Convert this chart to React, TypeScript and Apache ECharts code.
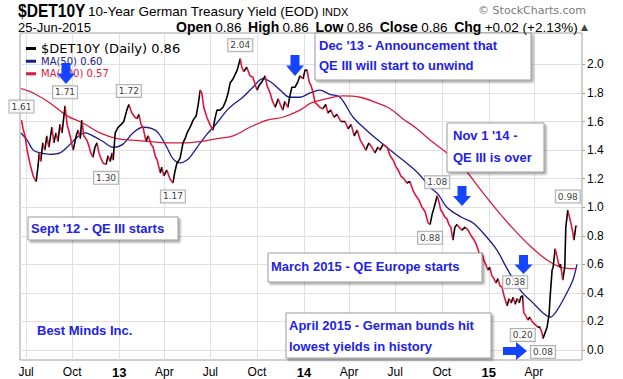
import { useEffect, useRef } from "react";
import * as echarts from "echarts";

const priceDates = [
  "2012-06-23","2012-06-26","2012-06-30","2012-07-04","2012-07-10","2012-07-16","2012-07-22","2012-07-26","2012-07-28","2012-07-31",
  "2012-08-04","2012-08-08","2012-08-12","2012-08-16","2012-08-22","2012-08-26","2012-08-30","2012-09-03","2012-09-07","2012-09-11",
  "2012-09-17","2012-09-21","2012-09-27","2012-10-03","2012-10-09","2012-10-13","2012-10-17","2012-10-20","2012-10-24","2012-10-30",
  "2012-11-03","2012-11-07","2012-11-11","2012-11-15","2012-11-19","2012-11-23","2012-11-27","2012-12-01","2012-12-07","2012-12-11",
  "2012-12-15","2012-12-19","2012-12-21","2012-12-25","2012-12-31","2013-01-06","2013-01-11","2013-01-17","2013-01-21","2013-01-27",
  "2013-02-02","2013-02-06","2013-02-10","2013-02-14","2013-02-18","2013-02-24","2013-02-28","2013-03-06","2013-03-10","2013-03-14",
  "2013-03-18","2013-03-24","2013-03-27","2013-03-31","2013-04-06","2013-04-12","2013-04-18","2013-04-22","2013-04-26","2013-05-02",
  "2013-05-08","2013-05-12","2013-05-16","2013-05-22","2013-05-28","2013-06-03","2013-06-07","2013-06-11","2013-06-14","2013-06-18",
  "2013-06-24","2013-06-30","2013-07-06","2013-07-10","2013-07-14","2013-07-20","2013-07-26","2013-08-01","2013-08-05","2013-08-09",
  "2013-08-15","2013-08-19","2013-08-23","2013-08-29","2013-09-01","2013-09-05","2013-09-11","2013-09-17","2013-09-23","2013-10-01",
  "2013-10-05","2013-10-11","2013-10-17","2013-10-21","2013-10-27","2013-10-31","2013-11-06","2013-11-12","2013-11-16","2013-11-21",
  "2013-11-25","2013-12-01","2013-12-05","2013-12-09","2013-12-15","2013-12-21","2013-12-25","2013-12-31","2014-01-04","2014-01-08",
  "2014-01-12","2014-01-16","2014-01-20","2014-01-24","2014-01-28","2014-02-02","2014-02-08","2014-02-14","2014-02-18","2014-02-24",
  "2014-03-02","2014-03-08","2014-03-16","2014-03-24","2014-03-30","2014-04-05","2014-04-11","2014-04-17","2014-04-23","2014-04-28",
  "2014-05-04","2014-05-10","2014-05-16","2014-05-22","2014-05-28","2014-06-01","2014-06-07","2014-06-15","2014-06-21","2014-06-27",
  "2014-07-03","2014-07-07","2014-07-12","2014-07-18","2014-07-24","2014-07-30","2014-08-05","2014-08-11","2014-08-17","2014-08-23",
  "2014-08-29","2014-09-04","2014-09-08","2014-09-12","2014-09-16","2014-09-22","2014-09-26","2014-09-29","2014-10-03","2014-10-07",
  "2014-10-11","2014-10-15","2014-10-19","2014-10-23","2014-10-27","2014-10-31","2014-11-04","2014-11-10","2014-11-16","2014-11-22",
  "2014-11-28","2014-12-04","2014-12-08","2014-12-12","2014-12-15","2014-12-19","2014-12-23","2014-12-27","2014-12-31","2015-01-04",
  "2015-01-08","2015-01-12","2015-01-16","2015-01-20","2015-01-24","2015-01-28","2015-02-01","2015-02-07","2015-02-11","2015-02-15",
  "2015-02-19","2015-02-23","2015-02-27","2015-03-03","2015-03-06","2015-03-10","2015-03-12","2015-03-16","2015-03-20","2015-03-24",
  "2015-03-28","2015-04-03","2015-04-09","2015-04-13","2015-04-17","2015-04-19","2015-04-23","2015-04-27","2015-05-01","2015-05-03",
  "2015-05-07","2015-05-09","2015-05-13","2015-05-17","2015-05-21","2015-05-24","2015-05-28","2015-06-01","2015-06-03","2015-06-07",
  "2015-06-11","2015-06-13","2015-06-17","2015-06-19","2015-06-23","2015-06-25"
];
const priceValues = [
  1.61,1.55,1.50,1.40,1.30,1.22,1.18,1.30,1.38,1.32,
  1.45,1.40,1.50,1.42,1.56,1.45,1.52,1.46,1.58,1.52,
  1.71,1.58,1.50,1.40,1.50,1.54,1.48,1.61,1.50,1.47,
  1.43,1.38,1.35,1.42,1.45,1.38,1.34,1.31,1.30,1.36,
  1.32,1.38,1.33,1.52,1.56,1.58,1.60,1.68,1.72,1.66,
  1.63,1.62,1.65,1.58,1.56,1.46,1.50,1.44,1.42,1.36,
  1.33,1.24,1.28,1.22,1.26,1.20,1.17,1.25,1.31,1.34,
  1.45,1.48,1.52,1.56,1.61,1.64,1.72,1.82,1.80,1.70,
  1.63,1.58,1.54,1.62,1.68,1.68,1.70,1.75,1.80,1.87,
  1.90,1.93,1.96,2.04,1.98,1.95,1.98,1.92,1.91,1.82,
  1.85,1.88,1.92,1.85,1.80,1.75,1.70,1.76,1.72,1.68,
  1.74,1.70,1.78,1.84,1.84,1.88,1.92,1.90,1.96,1.96,
  1.88,1.85,1.80,1.73,1.72,1.70,1.69,1.72,1.66,1.68,
  1.63,1.65,1.60,1.60,1.55,1.58,1.50,1.54,1.47,1.44,
  1.40,1.45,1.42,1.38,1.42,1.40,1.44,1.42,1.36,1.33,
  1.28,1.26,1.22,1.20,1.17,1.18,1.12,1.08,1.05,1.00,
  0.97,0.89,0.88,0.95,1.00,1.08,1.03,0.98,0.96,0.93,
  0.92,0.88,0.86,0.77,0.86,0.88,0.86,0.84,0.86,0.84,
  0.80,0.77,0.74,0.70,0.66,0.68,0.63,0.60,0.56,0.58,
  0.52,0.50,0.47,0.50,0.45,0.44,0.38,0.31,0.36,0.33,
  0.37,0.32,0.36,0.33,0.37,0.38,0.26,0.24,0.21,0.23,
  0.20,0.18,0.16,0.16,0.12,0.08,0.12,0.16,0.25,0.37,
  0.56,0.58,0.71,0.65,0.58,0.60,0.49,0.58,0.86,0.98,
  0.92,0.89,0.82,0.77,0.87,0.86
];

const ma50Dates = [
  "2012-06-22","2012-07-04","2012-07-16","2012-07-30","2012-08-18","2012-09-07","2012-09-21","2012-10-11","2012-10-26","2012-11-11",
  "2012-12-01","2012-12-21","2013-01-09","2013-01-29","2013-02-18","2013-03-08","2013-03-20","2013-04-06","2013-04-18","2013-05-02",
  "2013-05-16","2013-05-28","2013-06-11","2013-06-24","2013-07-14","2013-08-03","2013-08-19","2013-09-03","2013-09-23","2013-10-13",
  "2013-10-27","2013-11-16","2013-12-05","2013-12-25","2014-01-14","2014-02-02","2014-02-22","2014-03-14","2014-04-09","2014-05-02",
  "2014-05-28","2014-06-21","2014-07-20","2014-08-15","2014-09-08","2014-09-24","2014-10-11","2014-11-09","2014-12-02","2014-12-29",
  "2015-01-18","2015-02-07","2015-03-05","2015-03-30","2015-04-19","2015-05-03","2015-05-17","2015-06-05","2015-06-17","2015-06-25"
];
const ma50Values = [
  1.52,1.47,1.40,1.38,1.37,1.38,1.42,1.49,1.52,1.50,
  1.46,1.42,1.44,1.52,1.56,1.55,1.52,1.42,1.34,1.31,
  1.33,1.38,1.45,1.51,1.59,1.68,1.73,1.77,1.84,1.90,
  1.88,1.82,1.77,1.77,1.80,1.82,1.79,1.77,1.63,1.55,
  1.47,1.40,1.32,1.24,1.14,1.09,1.00,0.93,0.89,0.79,
  0.70,0.57,0.42,0.33,0.26,0.23,0.28,0.40,0.49,0.60
];

const ma200Dates = [
  "2012-06-22","2012-07-16","2012-08-18","2012-09-21","2012-10-22","2012-11-25","2012-12-29","2013-01-29","2013-03-04","2013-04-06",
  "2013-05-08","2013-06-11","2013-07-14","2013-08-15","2013-09-17","2013-10-21","2013-11-21","2013-12-25","2014-01-16","2014-02-16",
  "2014-03-20","2014-04-23","2014-05-26","2014-06-21","2014-07-16","2014-08-13","2014-09-08","2014-10-11","2014-11-12","2014-12-15",
  "2015-01-18","2015-02-19","2015-03-24","2015-04-27","2015-05-23","2015-06-11","2015-06-25"
];
const ma200Values = [
  1.83,1.80,1.73,1.64,1.59,1.52,1.48,1.47,1.46,1.45,
  1.45,1.46,1.48,1.50,1.56,1.61,1.63,1.68,1.73,1.76,
  1.78,1.77,1.73,1.69,1.62,1.55,1.47,1.38,1.28,1.13,
  0.98,0.85,0.73,0.63,0.58,0.57,0.57
];

const labelDates = ["2012-06-23","2012-09-17","2012-12-07","2013-01-21","2013-04-18","2013-08-29","2014-09-08","2014-09-22","2015-02-23","2015-03-10","2015-04-19","2015-06-07"];
const labelValues = [1.61,1.71,1.30,1.72,1.17,2.04,0.88,1.08,0.38,0.20,0.08,0.98];
const labelSides = ["top","top","bottom","top","bottom","top","bottom","top","top","bottom","bottom","top"];

const yTickValues = [0, 0.2, 0.4, 0.6, 0.8, 1.0, 1.2, 1.4, 1.6, 1.8, 2.0];
const xTickDates = ["2012-07-02","2012-10-01","2013-01-02","2013-04-01","2013-07-01","2013-10-01","2014-01-02","2014-04-01","2014-07-01","2014-10-01","2015-01-02","2015-04-01"];
const xTickLabels = ["Jul","Oct","13","Apr","Jul","Oct","14","Apr","Jul","Oct","15","Apr"];

const PRICE_NAME = "$DET10Y (Daily) 0.86";
const MA50_NAME = "MA(50) 0.60";
const MA200_NAME = "MA(200) 0.57";

const RED = "#e0143a";
const RED2 = "#d81b3c";
const NAVY = "#1c1c8e";
const ANN_BLUE = "#2222e6";
const ARROW_BLUE = "#1444ff";
const SANS = '"Liberation Sans", Arial, sans-serif';
const VERD = '"DejaVu Sans", Verdana, sans-serif';

const ts = (s: string) => new Date(s + "T00:00:00").getTime();

function txt(x: number, y: number, text: string, font: string, fill: string, align = "left", extra: any = {}) {
  return {
    type: "text", z: 100, x, y, ...extra,
    style: { text, font, fill, align, verticalAlign: "middle", textAlign: align, textVerticalAlign: "middle" },
  };
}
function box(x: number, y: number, w: number, h: number) {
  return {
    type: "rect", z: 90, shape: { x, y, width: w, height: h },
    style: { fill: "#fff", stroke: "#9a9a9a", lineWidth: 1, shadowBlur: 2, shadowOffsetX: 2, shadowOffsetY: 2, shadowColor: "rgba(0,0,0,0.35)" },
  };
}
function downArrow(cx: number, top: number, neck: number, tip: number) {
  return {
    type: "polygon", z: 100,
    shape: { points: [[cx - 4.5, top], [cx + 4.5, top], [cx + 4.5, neck], [cx + 9, neck], [cx, tip], [cx - 9, neck], [cx - 4.5, neck]] },
    style: { fill: ARROW_BLUE },
  };
}
function rightArrow(left: number, neck: number, tip: number, cy: number) {
  return {
    type: "polygon", z: 100,
    shape: { points: [[left, cy - 4], [neck, cy - 4], [neck, cy - 9], [tip, cy], [neck, cy + 9], [neck, cy + 4], [left, cy + 4]] },
    style: { fill: ARROW_BLUE },
  };
}

export default function App() {
  const ref = useRef<HTMLDivElement>(null);
  useEffect(() => {
    const chart = echarts.init(ref.current!, null, { renderer: "svg" });
    const priceTimes = priceDates.map(ts);
    const pieces: any[] = [];
    for (let i = 1; i < priceTimes.length; i++) {
      pieces.push({ min: priceTimes[i - 1], max: priceTimes[i], color: priceValues[i] >= priceValues[i - 1] ? "#000" : RED });
    }
    const xTickTimes = xTickDates.map(ts);

    const annLines = [
      txt(319, 45, "Dec '13 - Announcement that", `bold 13px ${SANS}`, ANN_BLUE),
      txt(319, 65, "QE III will start to unwind", `bold 13px ${SANS}`, ANN_BLUE),
      txt(453, 135, "Nov 1 '14 -", `bold 13px ${SANS}`, ANN_BLUE),
      txt(453, 157, "QE III is over", `bold 13px ${SANS}`, ANN_BLUE),
      txt(31, 228.5, "Sept '12 - QE III starts", `bold 13px ${SANS}`, ANN_BLUE),
      txt(271, 266, "March 2015 - QE Europe starts", `bold 13px ${SANS}`, ANN_BLUE),
      txt(289, 325, "April 2015 - German bunds hit", `bold 13px ${SANS}`, ANN_BLUE),
      txt(289, 346, "lowest yields in history", `bold 13px ${SANS}`, ANN_BLUE),
      txt(37, 330, "Best Minds Inc.", `bold 13px ${SANS}`, ANN_BLUE),
    ];

    const header = [
      txt(18, 10.5, "$DET10Y", `bold 19px ${SANS}`, "#000", "left", { scaleX: 0.82 }),
      txt(88, 11, "10-Year German Treasury Yield (EOD)", `13.5px ${SANS}`, "#000"),
      txt(322, 11.5, "INDX", `11px ${SANS}`, "#000"),
      txt(586, 10.5, "\u00A9 StockCharts.com", `11px ${VERD}`, "#7a7a7a", "right"),
      txt(18, 27, "25-Jun-2015", `13px ${SANS}`, "#000"),
      {
        type: "text", z: 100, x: 588, y: 27,
        style: {
          text: "{b|Open} {n|0.86}  {b|High} {n|0.86}  {b|Low} {n|0.86}  {b|Close} {n|0.86}  {b|Chg} {n|+0.02 (+2.13%)} {t|\u25B2}",
          align: "right", verticalAlign: "middle", textAlign: "right", textVerticalAlign: "middle",
          rich: {
            b: { fontFamily: SANS, fontWeight: "bold", fontSize: 14, fill: "#000" },
            n: { fontFamily: SANS, fontSize: 13.5, fill: "#000" },
            t: { fontFamily: VERD, fontSize: 9, fill: "#444" },
          },
        },
      },
    ];

    const option: any = {
      animation: false,
      backgroundColor: "#fff",
      grid: { left: 20, right: 41, top: 33, bottom: 19, show: true, borderColor: "#a0a0a0", borderWidth: 1, backgroundColor: "#fff" },
      xAxis: {
        type: "value",
        min: ts("2012-06-20"),
        max: ts("2015-07-05"),
        axisLine: { show: false },
        axisTick: { show: false, customValues: xTickTimes },
        splitLine: { show: true, lineStyle: { color: "#e0e0e0", width: 1 } },
        axisLabel: {
          customValues: xTickTimes,
          margin: 6,
          fontSize: 12,
          fontFamily: SANS,
          color: "#000",
          hideOverlap: false,
          formatter: (v: number) => {
            let j = 0;
            let best = Infinity;
            xTickTimes.forEach((t, i) => { const d = Math.abs(t - v); if (d < best) { best = d; j = i; } });
            const lab = xTickLabels[j];
            return /^\d+$/.test(lab) ? `{y|${lab}}` : lab;
          },
          rich: { y: { fontSize: 13, fontWeight: "bold", fontFamily: SANS, color: "#000" } },
        },
      },
      yAxis: {
        type: "value",
        position: "right",
        min: -0.07,
        max: 2.22,
        axisLine: { show: false },
        axisTick: { show: true, length: 3, customValues: yTickValues, lineStyle: { color: "#a0a0a0" } },
        splitLine: { show: true, lineStyle: { color: "#e0e0e0", width: 1 } },
        axisLabel: {
          customValues: yTickValues,
          margin: 5,
          fontSize: 12,
          fontFamily: SANS,
          color: "#000",
          formatter: (v: number) => v.toFixed(1),
        },
      },
      legend: {
        orient: "vertical",
        left: 21,
        top: 37,
        itemWidth: 10,
        itemHeight: 3,
        itemGap: 0,
        selectedMode: false,
        icon: "rect",
        textStyle: { fontFamily: VERD },
        data: [
          { name: PRICE_NAME, itemStyle: { color: "#000" }, lineStyle: { color: "#000" }, textStyle: { fontSize: 13, lineHeight: 13, color: "#000", fontFamily: VERD } },
          { name: MA50_NAME, itemStyle: { color: NAVY }, textStyle: { fontSize: 10, lineHeight: 12.5, color: NAVY, fontFamily: VERD } },
          { name: MA200_NAME, itemStyle: { color: RED2 }, textStyle: { fontSize: 10, lineHeight: 12.5, color: RED2, fontFamily: VERD } },
        ],
      },
      visualMap: [{
        type: "piecewise",
        show: false,
        seriesIndex: 0,
        dimension: 0,
        pieces,
        outOfRange: { color: RED },
      }],
      series: [
        {
          name: PRICE_NAME,
          type: "line",
          data: priceTimes.map((t, i) => [t, priceValues[i]]),
          showSymbol: false,
          symbol: "none",
          lineStyle: { width: 1.6 },
          itemStyle: { color: "#000" },
          z: 4,
        },
        {
          name: MA50_NAME,
          type: "line",
          data: ma50Dates.map((d, i) => [ts(d), ma50Values[i]]),
          smooth: 0.35,
          symbol: "none",
          lineStyle: { color: NAVY, width: 1.3 },
          itemStyle: { color: NAVY },
          z: 3,
        },
        {
          name: MA200_NAME,
          type: "line",
          data: ma200Dates.map((d, i) => [ts(d), ma200Values[i]]),
          smooth: 0.35,
          symbol: "none",
          lineStyle: { color: RED2, width: 1.3 },
          itemStyle: { color: RED2 },
          z: 3,
        },
        {
          name: "labels",
          type: "scatter",
          clip: false,
          silent: true,
          symbolSize: 1,
          itemStyle: { color: "rgba(0,0,0,0)" },
          z: 6,
          data: labelDates.map((d, i) => ({ value: [ts(d), labelValues[i]], label: { position: labelSides[i] } })),
          label: {
            show: true,
            distance: 7,
            formatter: (p: any) => p.value[1].toFixed(2),
            fontSize: 9,
            lineHeight: 10,
            fontFamily: VERD,
            color: "#000",
            backgroundColor: "#fff",
            borderColor: "#9a9a9a",
            borderWidth: 1,
            padding: [1, 2, 1, 2],
          },
        },
      ],
      graphic: [
        ...header,
        box(315, 33, 216, 47),
        box(447, 123, 97, 49),
        box(28, 217, 150, 23),
        box(268, 253, 214, 29),
        box(286, 313, 205, 45),
        ...annLines,
        downArrow(66, 63, 73.5, 84),
        downArrow(295, 55, 65.5, 76),
        downArrow(462, 186, 196, 206),
        downArrow(523.5, 255, 264.5, 274),
        rightArrow(503, 516, 527, 351),
      ],
    };
    chart.setOption(option);
    return () => chart.dispose();
  }, []);
  return <div ref={ref} style={{ position: "fixed", left: 0, top: 0, width: 623, height: 379 }} />;
}
